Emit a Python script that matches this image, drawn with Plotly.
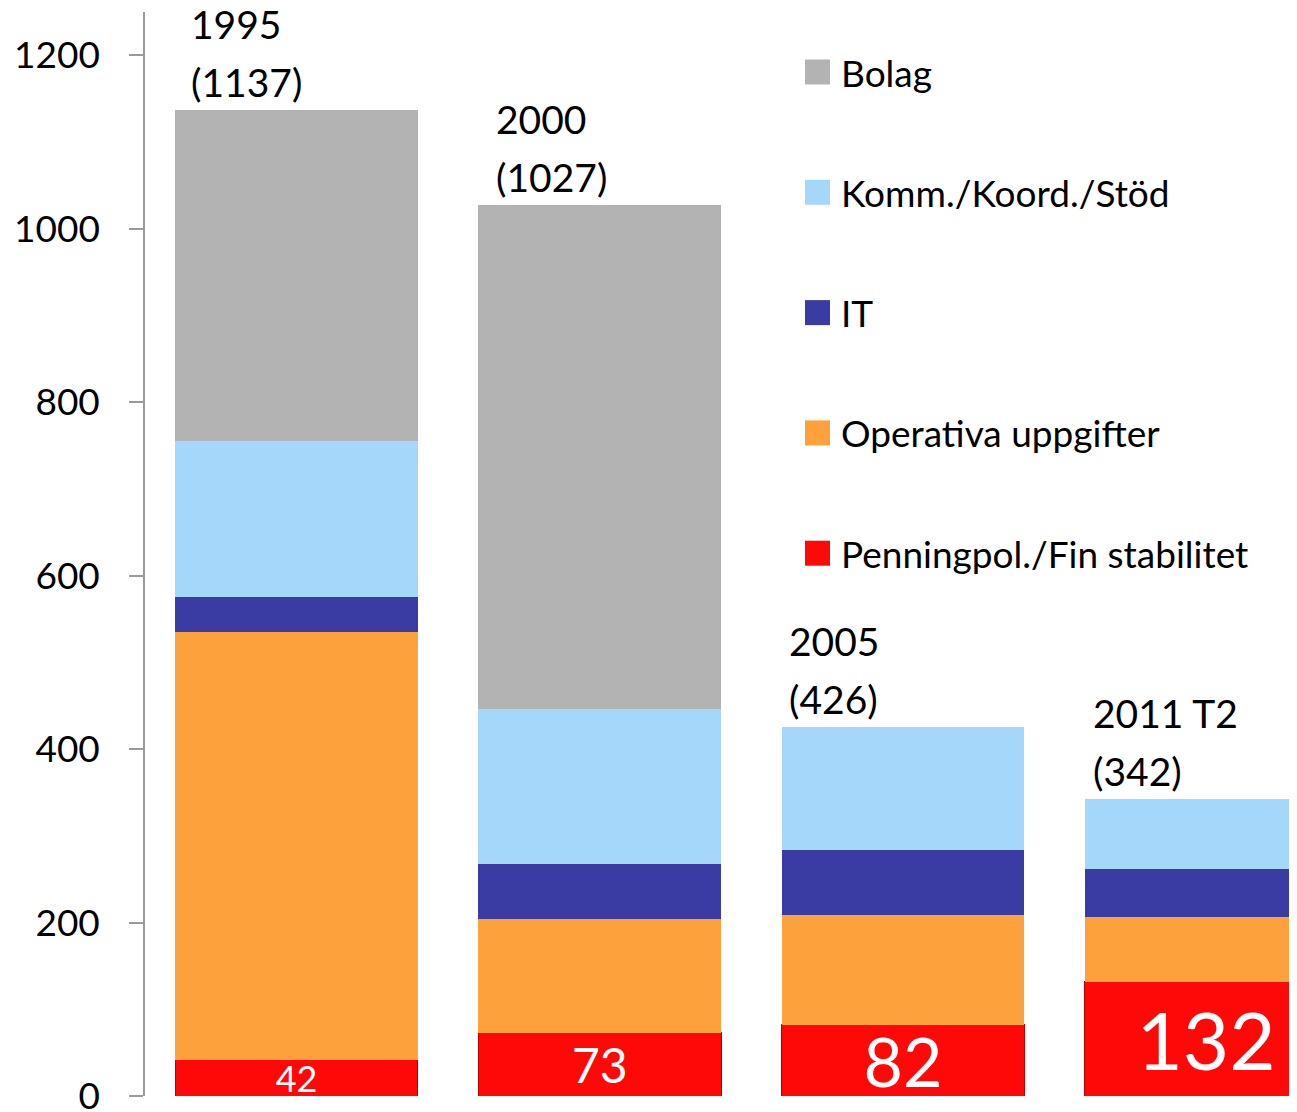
import plotly.graph_objects as go

# 数据
years = ['1995', '2000', '2005', '2011 T2']
penning = [42, 73, 82, 132]
operativa = [493, 131, 127, 74]
it = [40, 63, 75, 56]
komm = [180, 179, 142, 80]
bolag = [382, 581, 0, 0]
y_ticks = [0, 200, 400, 600, 800, 1000, 1200]

series = [
    ('Penningpol./Fin stabilitet', penning, '#ff0808'),
    ('Operativa uppgifter', operativa, '#fda13c'),
    ('IT', it, '#3b3ba4'),
    ('Komm./Koord./Stöd', komm, '#a5d7fb'),
    ('Bolag', bolag, '#b3b3b3'),
]
totals = [sum(v) for v in zip(penning, operativa, it, komm, bolag)]

FONT = 'Lato'
PAGE_OFF = 8  # 页面 body 默认 8px 边距


def mkPic():
    fig = go.Figure()
    for name, vals, color in series:
        bar = dict(x=years, y=vals, name=name, marker_color=color,
                   marker_line_width=0, showlegend=False)
        if vals is penning:
            # 红色部分显示数值, 字号逐渐变大
            bar.update(text=[str(v) for v in vals], textposition='inside',
                       insidetextanchor='middle', textangle=0,
                       constraintext='none',
                       textfont=dict(color='white', family=FONT,
                                     size=[36, 48, 68, 80]),
                       marker_line=dict(color='#b80000', width=1))
        fig.add_trace(go.Bar(**bar))

    # 柱子上方的年份和合计
    shifts = [-108, -106, -116, -115]
    for i, (yr, tot) in enumerate(zip(years, totals)):
        for txt, dy in ((f'({tot})', 3), (yr, 61)):
            fig.add_annotation(x=i, y=tot, xref='x', yref='y', text=txt,
                               showarrow=False, xanchor='left',
                               yanchor='bottom', xshift=shifts[i], yshift=dy,
                               font=dict(family=FONT, size=39, color='black'))

    # 手工图例 (方块 + 文字)
    plot_l, plot_r, plot_t, plot_b = 145, 1297, 12, 1096
    for k, (name, vals, color) in enumerate(reversed(series)):
        py = 72 + k * 120.3
        yp = (plot_b - py) / (plot_b - plot_t)
        xp = (817.5 - plot_l) / (plot_r - plot_l)
        fig.add_shape(type='rect', xref='paper', yref='paper',
                      xsizemode='pixel', ysizemode='pixel',
                      xanchor=xp, yanchor=yp,
                      x0=-12.5, x1=12.5, y0=-12.5, y1=12.5,
                      fillcolor=color, line_width=0)
        fig.add_annotation(x=(839 - plot_l) / (plot_r - plot_l), y=yp,
                           xref='paper', yref='paper', text=name,
                           showarrow=False, xanchor='left', yanchor='middle',
                           font=dict(family=FONT, size=37, color='black'))

    fig.update_layout(
        width=1297, height=1112,
        margin=dict(l=plot_l - PAGE_OFF, r=PAGE_OFF, t=plot_t - PAGE_OFF,
                    b=1112 - plot_b + PAGE_OFF),
        barmode='stack', bargap=0.2,
        paper_bgcolor='white', plot_bgcolor='white',
        font=dict(family=FONT, color='black'),
        xaxis=dict(range=[-0.5, 3.3], showticklabels=False, showgrid=False,
                   zeroline=False, showline=False, ticks='',
                   automargin=False),
        yaxis=dict(range=[0, 1250], tickvals=y_ticks, showgrid=False,
                   zeroline=False, showline=True, linecolor='#9a9a9a',
                   linewidth=1.5, ticks='outside', ticklen=14,
                   tickcolor='#9a9a9a', tickwidth=1.5, ticklabelstandoff=22,
                   automargin=False,
                   tickfont=dict(family=FONT, size=37, color='black')),
    )
    fig.write_html('out.html')


if __name__ == '__main__':
    mkPic()
